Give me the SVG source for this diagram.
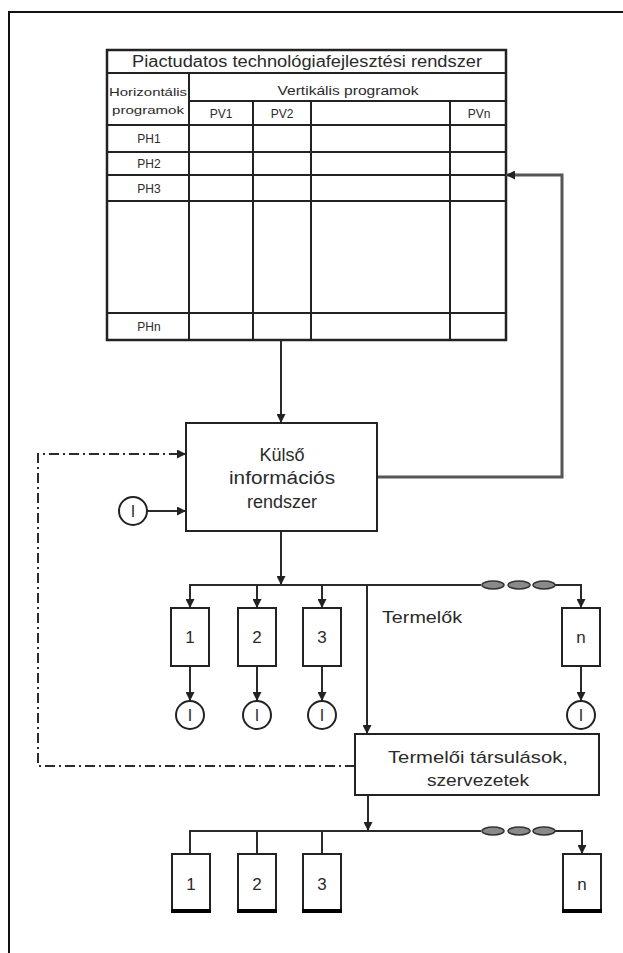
<svg xmlns="http://www.w3.org/2000/svg" width="623" height="953" viewBox="0 0 623 953">
<style>
text{font-family:"Liberation Sans",Arial,sans-serif;fill:#2a2a2a}
.tl{stroke:#222;stroke-width:2;fill:none}
.bx{fill:#fff;stroke:#222;stroke-width:2}
.cn{stroke:#2a2a2a;stroke-width:2;fill:none}
.dd{stroke:#2a2a2a;stroke-width:2;fill:none;stroke-dasharray:10 4 2 4}
.ov{fill:#8a8a8a;stroke:#333;stroke-width:1.5}
.t12{font-size:12px;text-anchor:middle}
.t18{font-size:18px;text-anchor:middle}
</style>
<defs>
<marker id="ah" viewBox="0 0 10 10" refX="10" refY="5" markerWidth="9" markerHeight="9" markerUnits="userSpaceOnUse" orient="auto"><path d="M0,0 L10,5 L0,10 z" fill="#222"/></marker>
</defs>
<rect width="623" height="953" fill="#fff"/>
<g id="frame"><path d="M9,953 V12 H623" stroke="#111" stroke-width="2" fill="none"/></g>

<g id="table">
<rect x="107" y="50" width="399" height="290" fill="#fff" stroke="#222" stroke-width="2.5"/>
<path class="tl" d="M107,73 H506 M189,101 H506 M107,125 H506 M107,152 H506 M107,175 H506 M107,201 H506 M107,313 H506 M189,73 V340 M253,101 V340 M311,101 V340 M450,101 V340"/>
<text x="307" y="67" font-size="16" text-anchor="middle" textLength="350" lengthAdjust="spacingAndGlyphs">Piactudatos technológiafejlesztési rendszer</text>
<text x="348" y="95" class="t12" textLength="141" lengthAdjust="spacingAndGlyphs">Vertikális programok</text>
<text x="148" y="96" font-size="11" text-anchor="middle" textLength="78" lengthAdjust="spacingAndGlyphs">Horizontális</text>
<text x="148" y="114" font-size="11" text-anchor="middle" textLength="72" lengthAdjust="spacingAndGlyphs">programok</text>
<text x="221" y="118" class="t12">PV1</text>
<text x="282" y="118" class="t12">PV2</text>
<text x="479" y="118" class="t12">PVn</text>
<text x="149" y="143" class="t12">PH1</text>
<text x="149" y="168" class="t12">PH2</text>
<text x="149" y="193" class="t12">PH3</text>
<text x="149" y="331" class="t12">PHn</text>
</g>

<g id="connectors">
<path class="cn" d="M281,340 V423" marker-end="url(#ah)"/>
<path d="M377,477 H562 V175 H506" stroke="#555" stroke-width="3" fill="none" marker-end="url(#ah)"/>
<path class="dd" d="M355,766 H38 V454 H186" marker-end="url(#ah)"/>
<path class="cn" d="M147,511 H186" marker-end="url(#ah)"/>
<path class="cn" d="M281,531 V585" marker-end="url(#ah)"/>
<path class="cn" d="M190,608 V585 H481 M555,585 H581 V608" marker-end="url(#ah)"/>
<path class="cn" d="M190,585 V608" marker-end="url(#ah)"/>
<path class="cn" d="M257,585 V608" marker-end="url(#ah)"/>
<path class="cn" d="M322,585 V608" marker-end="url(#ah)"/>
<path class="cn" d="M367,585 V734" marker-end="url(#ah)"/>
<path class="cn" d="M190,666 V701" marker-end="url(#ah)"/>
<path class="cn" d="M257,666 V701" marker-end="url(#ah)"/>
<path class="cn" d="M322,666 V701" marker-end="url(#ah)"/>
<path class="cn" d="M581,666 V701" marker-end="url(#ah)"/>
<ellipse class="ov" cx="493" cy="585" rx="11" ry="4"/>
<ellipse class="ov" cx="519" cy="585" rx="11" ry="4"/>
<ellipse class="ov" cx="544" cy="585" rx="11" ry="4"/>
<path class="cn" d="M368,795 V831" marker-end="url(#ah)"/>
<path class="cn" d="M190,854 V831 H481 M555,831 H582 V854" marker-end="url(#ah)"/>
<path class="cn" d="M257,831 V854 M322,831 V854"/>
<ellipse class="ov" cx="493" cy="831" rx="11" ry="4"/>
<ellipse class="ov" cx="519" cy="831" rx="11" ry="4"/>
<ellipse class="ov" cx="544" cy="831" rx="11" ry="4"/>
</g>

<g id="kulso">
<rect class="bx" x="186" y="423" width="191" height="108"/>
<text x="282" y="461" class="t18">Külső</text>
<text x="282" y="484" class="t18" textLength="106" lengthAdjust="spacingAndGlyphs">információs</text>
<text x="282" y="508" class="t18">rendszer</text>
</g>

<g id="info-in">
<circle cx="133" cy="511" r="14" fill="#fff" stroke="#222" stroke-width="2"/>
<text x="133" y="517" font-size="16" text-anchor="middle">I</text>
</g>

<g id="p1"><rect class="bx" x="171" y="608" width="38" height="58"/><text x="190" y="643" font-size="17" text-anchor="middle">1</text></g>
<g id="p2"><rect class="bx" x="238" y="608" width="38" height="58"/><text x="257" y="643" font-size="17" text-anchor="middle">2</text></g>
<g id="p3"><rect class="bx" x="303" y="608" width="38" height="58"/><text x="322" y="643" font-size="17" text-anchor="middle">3</text></g>
<g id="pn"><rect class="bx" x="562" y="608" width="38" height="58"/><text x="581" y="643" font-size="17" text-anchor="middle">n</text></g>

<g id="termelok-label"><text x="382" y="623" font-size="17" textLength="80" lengthAdjust="spacingAndGlyphs">Termelők</text></g>

<g id="i1"><circle cx="190" cy="715" r="14" fill="#fff" stroke="#222" stroke-width="2"/><text x="190" y="721" font-size="16" text-anchor="middle">I</text></g>
<g id="i2"><circle cx="257" cy="715" r="14" fill="#fff" stroke="#222" stroke-width="2"/><text x="257" y="721" font-size="16" text-anchor="middle">I</text></g>
<g id="i3"><circle cx="322" cy="715" r="14" fill="#fff" stroke="#222" stroke-width="2"/><text x="322" y="721" font-size="16" text-anchor="middle">I</text></g>
<g id="in"><circle cx="581" cy="715" r="14" fill="#fff" stroke="#222" stroke-width="2"/><text x="581" y="721" font-size="16" text-anchor="middle">I</text></g>

<g id="tarsulasok">
<rect class="bx" x="355" y="734" width="244" height="61"/>
<text x="478" y="763" font-size="17" text-anchor="middle" textLength="180" lengthAdjust="spacingAndGlyphs">Termelői társulások,</text>
<text x="478" y="786" font-size="17" text-anchor="middle" textLength="102" lengthAdjust="spacingAndGlyphs">szervezetek</text>
</g>

<g id="b1"><rect class="bx" x="172" y="854" width="38" height="57"/><path d="M171,911 H211" stroke="#000" stroke-width="4"/><text x="191" y="890" font-size="17" text-anchor="middle">1</text></g>
<g id="b2"><rect class="bx" x="238" y="854" width="38" height="57"/><path d="M237,911 H277" stroke="#000" stroke-width="4"/><text x="257" y="890" font-size="17" text-anchor="middle">2</text></g>
<g id="b3"><rect class="bx" x="303" y="854" width="38" height="57"/><path d="M302,911 H342" stroke="#000" stroke-width="4"/><text x="322" y="890" font-size="17" text-anchor="middle">3</text></g>
<g id="bn"><rect class="bx" x="563" y="854" width="38" height="57"/><path d="M562,911 H602" stroke="#000" stroke-width="4"/><text x="582" y="890" font-size="17" text-anchor="middle">n</text></g>
</svg>
